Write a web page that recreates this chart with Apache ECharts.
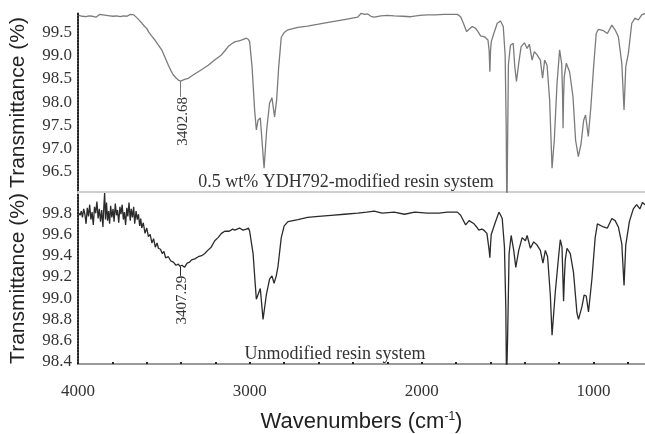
<!DOCTYPE html>
<html>
<head>
<meta charset="utf-8">
<script src="https://cdn.jsdelivr.net/npm/echarts@6/dist/echarts.min.js"></script>
<style>html,body{margin:0;padding:0;background:#fff}#c{width:645px;height:434px}</style>
</head>
<body>
<div id="c"></div>
<script>
// ---- data ----
const xLabelValues = [1000, 2000, 3000, 4000];
const xTickValues = [800, 1000, 1200, 1400, 1600, 1800, 2000, 2200, 2400, 2600, 2800, 3000, 3200, 3400, 3600, 3800, 4000];
const topTickValues = [96.5, 97.0, 97.5, 98.0, 98.5, 99.0, 99.5];
const bottomTickValues = [98.4, 98.6, 98.8, 99.0, 99.2, 99.4, 99.6, 99.8];

const modifiedSpectrum = [
  [3995, 99.86], [3985, 99.89], [3975, 99.84], [3965, 99.88], [3955, 99.83], [3945, 99.87], [3935, 99.85], [3925, 99.89],
  [3915, 99.84], [3905, 99.87], [3895, 99.82], [3885, 99.86], [3875, 99.88], [3865, 99.84], [3855, 99.87], [3845, 99.83],
  [3835, 99.86], [3825, 99.89], [3815, 99.85], [3805, 99.87], [3795, 99.84], [3785, 99.88], [3775, 99.85], [3765, 99.86],
  [3755, 99.83], [3745, 99.87], [3735, 99.85], [3725, 99.88], [3715, 99.84], [3705, 99.86], [3695, 99.88], [3685, 99.85],
  [3675, 99.87], [3665, 99.84], [3655, 99.80], [3645, 99.77], [3635, 99.72], [3625, 99.69], [3612, 99.62], [3600, 99.58],
  [3590, 99.51], [3572, 99.42], [3552, 99.33], [3532, 99.22], [3513, 99.12], [3494, 98.96], [3474, 98.79], [3460, 98.68],
  [3445, 98.58], [3430, 98.52], [3416, 98.47], [3402, 98.45], [3390, 98.47], [3375, 98.49], [3358, 98.51], [3330, 98.58],
  [3300, 98.65], [3270, 98.72], [3242, 98.79], [3205, 98.90], [3165, 99.01], [3145, 99.10], [3126, 99.19], [3105, 99.25],
  [3088, 99.29], [3065, 99.31], [3049, 99.33], [3035, 99.35], [3020, 99.37], [3008, 99.34], [3001, 99.29], [2987, 98.76],
  [2972, 97.83], [2962, 97.40], [2952, 97.61], [2939, 97.66], [2917, 96.58], [2902, 97.40], [2885, 97.98], [2871, 98.09],
  [2856, 97.68], [2844, 98.04], [2832, 98.75], [2817, 99.39], [2800, 99.49], [2778, 99.55], [2720, 99.60], [2664, 99.63],
  [2600, 99.67], [2527, 99.72], [2450, 99.77], [2372, 99.82], [2353, 99.90], [2330, 99.88], [2314, 99.89], [2295, 99.84],
  [2276, 99.82], [2237, 99.85], [2200, 99.86], [2160, 99.85], [2110, 99.84], [2063, 99.83], [2010, 99.86], [1966, 99.87],
  [1920, 99.87], [1870, 99.88], [1820, 99.88], [1792, 99.88], [1773, 99.83], [1757, 99.69], [1738, 99.51], [1724, 99.56],
  [1705, 99.62], [1686, 99.58], [1672, 99.51], [1657, 99.42], [1634, 99.40], [1614, 99.33], [1607, 99.10], [1603, 98.65],
  [1599, 99.10], [1595, 99.29], [1580, 99.47], [1560, 99.69], [1541, 99.74], [1525, 99.62], [1514, 99.01], [1508, 97.50],
  [1504, 95.50], [1500, 97.00], [1495, 98.80], [1483, 99.22], [1467, 99.26], [1458, 98.76], [1448, 98.44], [1435, 98.83],
  [1421, 99.19], [1402, 99.27], [1386, 99.15], [1373, 99.24], [1357, 98.90], [1344, 99.08], [1328, 99.01], [1309, 98.90],
  [1296, 98.51], [1284, 98.90], [1270, 98.79], [1255, 98.04], [1241, 96.58], [1228, 97.18], [1212, 98.40], [1197, 99.12],
  [1185, 98.83], [1180, 98.20], [1177, 97.44], [1174, 98.10], [1170, 98.54], [1158, 98.83], [1139, 98.65], [1119, 98.11],
  [1104, 97.18], [1088, 96.83], [1072, 97.11], [1057, 97.61], [1046, 97.72], [1030, 97.26], [1015, 97.90], [999, 98.76],
  [984, 99.47], [971, 99.56], [942, 99.53], [919, 99.47], [893, 99.65], [874, 99.55], [855, 99.40], [835, 98.83],
  [822, 97.83], [812, 98.76], [797, 99.04], [777, 99.69], [758, 99.80], [739, 99.76], [719, 99.87], [700, 99.90]
];

const unmodifiedSpectrum = [
  [3995, 99.80], [3988, 99.78], [3981, 99.82], [3974, 99.76], [3967, 99.84], [3960, 99.79], [3953, 99.70], [3946, 99.85],
  [3939, 99.77], [3932, 99.88], [3925, 99.74], [3918, 99.81], [3911, 99.69], [3904, 99.86], [3897, 99.80], [3890, 99.91],
  [3883, 99.75], [3876, 99.84], [3869, 99.72], [3862, 99.83], [3855, 99.67], [3850, 99.85], [3845, 99.99], [3840, 99.74],
  [3834, 99.90], [3828, 99.73], [3822, 99.82], [3816, 99.70], [3810, 99.87], [3803, 99.76], [3796, 99.84], [3790, 99.72],
  [3783, 99.89], [3776, 99.78], [3770, 99.83], [3763, 99.71], [3756, 99.86], [3750, 99.79], [3743, 99.88], [3736, 99.74],
  [3730, 99.81], [3723, 99.69], [3716, 99.85], [3710, 99.77], [3703, 99.90], [3696, 99.73], [3690, 99.84], [3683, 99.76],
  [3676, 99.86], [3670, 99.70], [3662, 99.82], [3655, 99.74], [3648, 99.79], [3641, 99.68], [3635, 99.75], [3629, 99.66],
  [3620, 99.71], [3610, 99.61], [3600, 99.66], [3590, 99.58], [3580, 99.60], [3570, 99.52], [3560, 99.56], [3550, 99.48],
  [3540, 99.52], [3532, 99.47], [3520, 99.46], [3510, 99.42], [3500, 99.44], [3490, 99.38], [3474, 99.39], [3460, 99.35],
  [3445, 99.34], [3430, 99.31], [3416, 99.32], [3407, 99.30], [3395, 99.31], [3380, 99.29], [3365, 99.33], [3350, 99.34],
  [3339, 99.36], [3320, 99.37], [3300, 99.39], [3280, 99.40], [3262, 99.42], [3245, 99.45], [3225, 99.48], [3204, 99.54],
  [3185, 99.57], [3165, 99.61], [3146, 99.63], [3120, 99.63], [3100, 99.65], [3088, 99.64], [3060, 99.66], [3040, 99.64],
  [3020, 99.65], [3008, 99.66], [3001, 99.63], [2981, 99.42], [2968, 99.12], [2962, 98.99], [2952, 99.00], [2939, 99.09],
  [2923, 98.80], [2904, 99.03], [2885, 99.18], [2871, 99.21], [2859, 99.14], [2846, 99.21], [2836, 99.30], [2817, 99.57],
  [2800, 99.68], [2778, 99.72], [2720, 99.74], [2664, 99.76], [2600, 99.77], [2527, 99.78], [2450, 99.79], [2372, 99.80],
  [2320, 99.81], [2276, 99.82], [2230, 99.80], [2160, 99.81], [2100, 99.79], [2040, 99.81], [1966, 99.80], [1900, 99.80],
  [1850, 99.81], [1792, 99.81], [1773, 99.78], [1744, 99.69], [1724, 99.73], [1695, 99.70], [1680, 99.67], [1667, 99.64],
  [1650, 99.65], [1638, 99.64], [1620, 99.61], [1612, 99.60], [1607, 99.45], [1603, 99.38], [1599, 99.50], [1595, 99.60],
  [1570, 99.72], [1550, 99.81], [1540, 99.78], [1531, 99.75], [1518, 99.48], [1510, 98.90], [1506, 98.20], [1500, 98.60],
  [1491, 99.42], [1479, 99.59], [1464, 99.45], [1452, 99.29], [1435, 99.45], [1415, 99.57], [1396, 99.54], [1386, 99.59],
  [1367, 99.47], [1348, 99.53], [1328, 99.50], [1309, 99.45], [1294, 99.33], [1280, 99.45], [1267, 99.39], [1251, 99.03],
  [1241, 98.65], [1222, 99.06], [1203, 99.39], [1193, 99.55], [1183, 99.48], [1178, 99.20], [1174, 98.97], [1169, 99.20],
  [1164, 99.36], [1154, 99.47], [1135, 99.42], [1116, 99.24], [1096, 98.86], [1087, 98.80], [1067, 98.92], [1054, 99.03],
  [1042, 99.02], [1029, 98.87], [1009, 99.18], [990, 99.57], [977, 99.70], [942, 99.67], [919, 99.66], [893, 99.75],
  [874, 99.73], [855, 99.67], [835, 99.51], [822, 99.12], [812, 99.50], [791, 99.72], [768, 99.84], [749, 99.88],
  [730, 99.84], [715, 99.90], [700, 99.88]
];

const modifiedPeak = [3402.68, 98.45];
const unmodifiedPeak = [3407.29, 99.30];

// ---- chart ----
const chart = echarts.init(document.getElementById('c'), null, { renderer: 'canvas' });
const serif = '"Liberation Serif", "Times New Roman", serif';
const sans = '"Liberation Sans", Arial, sans-serif';

function peakMarks(peak, drop, color) {
  return {
    markLine: {
      silent: true, symbol: ['none', 'none'],
      lineStyle: { color: color, width: 1, type: 'solid' },
      label: { show: false },
      data: [[{ coord: [peak[0], peak[1]] }, { coord: [peak[0], peak[1] - drop] }]]
    },
    markPoint: {
      silent: true, symbol: 'circle', symbolSize: 0,
      data: [{ coord: [peak[0], peak[1] - drop] }],
      label: {
        show: true, formatter: peak[0].toFixed(2), position: 'inside',
        rotate: 90, align: 'right', verticalAlign: 'middle', offset: [0, 2],
        fontFamily: serif, fontSize: 15, color: '#333'
      }
    }
  };
}

const baseX = {
  type: 'value', min: 700, max: 4000, inverse: true,
  splitLine: { show: false }
};

chart.setOption({
  animation: false,
  backgroundColor: '#fff',
  grid: [
    { left: 76, right: 0, top: 13, height: 179 },
    { left: 76, right: 0, top: 193, height: 180 }
  ],
  xAxis: [
    Object.assign({}, baseX, {
      gridIndex: 0,
      axisLine: { show: true, lineStyle: { color: '#cfcfcf', width: 2 } },
      axisTick: { show: false }, axisLabel: { show: false }
    }),
    Object.assign({}, baseX, {
      gridIndex: 1,
      axisLine: { show: true, lineStyle: { color: '#9a9a9a', width: 2 } },
      axisTick: { show: true, inside: true, length: 2, customValues: xTickValues, lineStyle: { color: '#222', width: 2 } },
      axisLabel: { show: true, customValues: xLabelValues, formatter: v => String(v), margin: 19, fontFamily: serif, fontSize: 17, color: '#333' },
      name: 'Wavenumbers (cm{sup|-1})', nameLocation: 'middle', nameGap: 47,
      nameTextStyle: {
        fontFamily: sans, fontSize: 22, color: '#222',
        rich: { sup: { fontFamily: sans, fontSize: 12, verticalAlign: 'top', padding: [0, 0, 10, 0], color: '#222' } }
      }
    })
  ],
  yAxis: [
    {
      type: 'value', gridIndex: 0, min: 96.07, max: 99.91,
      splitLine: { show: false }, axisTick: { show: false },
      axisLine: { show: true, lineStyle: { color: '#222', width: 2, type: [1.5, 1.5] } },
      axisLabel: { customValues: topTickValues, formatter: v => v.toFixed(1), fontFamily: serif, fontSize: 17, color: '#333', margin: 6 },
      name: 'Transmittance (%)', nameLocation: 'middle', nameGap: 49,
      nameTextStyle: { fontFamily: sans, fontSize: 21, color: '#222' }
    },
    {
      type: 'value', gridIndex: 1, min: 98.38, max: 99.99,
      splitLine: { show: false }, axisTick: { show: false },
      axisLine: { show: true, lineStyle: { color: '#222', width: 2, type: [1.5, 1.5] } },
      axisLabel: { customValues: bottomTickValues, formatter: v => v.toFixed(1), fontFamily: serif, fontSize: 17, color: '#333', margin: 6 },
      name: 'Transmittance (%)', nameLocation: 'middle', nameGap: 49,
      nameTextStyle: { fontFamily: sans, fontSize: 21, color: '#222' }
    }
  ],
  series: [
    Object.assign({
      type: 'line', xAxisIndex: 0, yAxisIndex: 0, data: modifiedSpectrum,
      showSymbol: false, symbol: 'none', clip: true,
      lineStyle: { color: '#7b7b7b', width: 1.3 }
    }, peakMarks(modifiedPeak, 0.34, '#7b7b7b')),
    Object.assign({
      type: 'line', xAxisIndex: 1, yAxisIndex: 1, data: unmodifiedSpectrum,
      showSymbol: false, symbol: 'none', clip: true,
      lineStyle: { color: '#2b2b2b', width: 1.3 }
    }, peakMarks(unmodifiedPeak, 0.09, '#2b2b2b'))
  ],
  graphic: [
    { type: 'text', x: 346, y: 182, style: { text: '0.5 wt% YDH792-modified resin system', font: '18px ' + serif, fill: '#333', textAlign: 'center', textVerticalAlign: 'middle' } },
    { type: 'text', x: 335, y: 354, style: { text: 'Unmodified resin system', font: '18px ' + serif, fill: '#333', textAlign: 'center', textVerticalAlign: 'middle' } }
  ]
});
</script>
</body>
</html>
